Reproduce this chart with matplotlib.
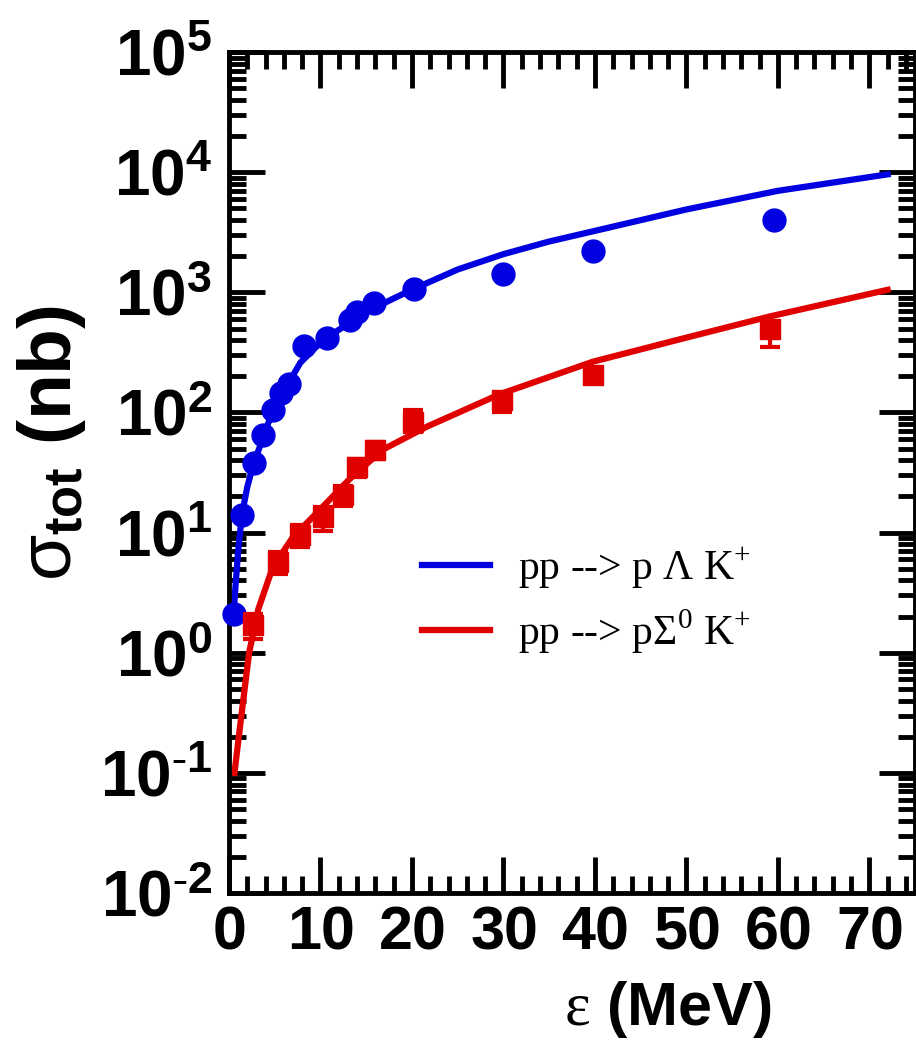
import numpy as np
import matplotlib
matplotlib.use('Agg')
import matplotlib.pyplot as plt
import matplotlib.ticker as mtick

# pp -> p Lambda K+ : measured points and model curve (nb vs MeV)
eps_lam = [0.55, 1.4, 2.7, 3.7, 4.8, 5.7, 6.6, 8.2, 10.7, 13.2, 14.0, 15.8, 20.2, 30.0, 39.8, 59.6]
sig_lam = [2.1, 14, 38, 65, 104, 144, 174, 360, 415, 585, 680, 810, 1075, 1420, 2200, 4000]
eps_lam_fit = [0.45, 0.7, 1.0, 1.4, 2.0, 2.7, 3.5, 4.3, 5.2, 6.2, 7.8, 9.5, 11.4, 13.5,
               15.7, 18, 20.1, 25, 30, 35, 40, 50, 60, 72]
sig_lam_fit = [1.8, 3.5, 7, 14, 24, 38, 55, 82, 112, 160, 260, 350, 455, 580,
               730, 890, 1060, 1550, 2080, 2650, 3250, 4900, 7000, 9600]

# pp -> p Sigma0 K+ : measured points (with errors) and model curve
eps_sig = [2.6, 5.4, 7.8, 10.3, 12.5, 14.0, 16.0, 20.1, 29.8, 39.8, 59.1]
sig_sig = [1.7, 5.7, 9.6, 13.4, 20.6, 35, 49, 84, 128, 205, 500]
err_lo = [0.4, 1.2, 2, 3, 4, 6, 8, 15, 28, 20, 150]
err_hi = [0.4, 1.2, 2, 3, 4, 6, 8, 20, 10, 10, 40]
eps_sig_fit = [0.6, 1.0, 1.5, 2.2, 3.2, 4.8, 7.0, 9.6, 13.2, 16.8, 21.6, 29.6, 39.8, 50, 59.1, 72]
sig_sig_fit = [0.1, 0.18, 0.37, 1.0, 2.3, 5.2, 9.2, 14.6, 28, 49, 76, 142, 265, 420, 630, 1050]

blue = '#0000e0'
red = '#e00000'

plt.rcParams.update({
    'font.family': 'Liberation Sans',
    'font.weight': 'normal',
    'mathtext.fontset': 'custom',
    'mathtext.rm': 'Liberation Serif',
    'mathtext.it': 'Liberation Sans',
    'mathtext.bf': 'Liberation Sans:bold',
    'mathtext.sf': 'Liberation Sans',
})


def decade(v, pos):
    e = int(round(np.log10(v)))
    if e < 0:
        return r'$\mathbf{10}^{\mathbf{\text{-}%d}}$' % (-e)
    return r'$\mathbf{10^{%d}}$' % e


fig = plt.figure(figsize=(9.16, 10.42), dpi=100)
ax = fig.add_axes([0.25, 0.143, 0.749, 0.807])
ax.set_yscale('log')

l1, = ax.plot(eps_lam_fit, sig_lam_fit, color=blue, lw=4.5)
l2, = ax.plot(eps_sig_fit, sig_sig_fit, color=red, lw=4.5)
ax.plot(eps_lam, sig_lam, 'o', color=blue, ms=16.5, clip_on=False, zorder=4)
ax.errorbar(eps_sig, sig_sig, yerr=[err_lo, err_hi], fmt='s', color=red, ms=14,
            capsize=7, elinewidth=3, capthick=3, zorder=4)

ax.set_xlim(0, 75)
ax.set_ylim(1e-2, 1e5)
ax.xaxis.set_major_locator(mtick.MultipleLocator(10))
ax.xaxis.set_minor_locator(mtick.MultipleLocator(2))
ax.yaxis.set_major_locator(mtick.LogLocator(base=10, numticks=20))
ax.yaxis.set_minor_locator(mtick.LogLocator(base=10, subs=range(2, 10), numticks=20))
ax.yaxis.set_minor_formatter(mtick.NullFormatter())
ax.yaxis.set_major_formatter(mtick.FuncFormatter(decade))
ax.xaxis.set_major_formatter(mtick.FuncFormatter(lambda v, p: r'$\mathbf{%d}$' % v))

ax.tick_params(which='both', direction='in', top=True, right=True, width=3.5)
ax.tick_params(which='major', length=26, pad=10)
ax.tick_params(axis='x', which='major', labelsize=44, pad=8)
ax.tick_params(axis='y', which='major', labelsize=46, pad=12)
ax.tick_params(which='minor', length=12)
for s in ax.spines.values():
    s.set_linewidth(3.5)

ax.set_xlabel(r'$\mathrm{ε}\ \mathbf{(MeV)}$', fontsize=44)
ax.xaxis.set_label_coords(0.64, -0.102)
ax.set_ylabel(r'$\sigma_{\mathbf{tot}}\ \mathbf{(nb)}$', fontsize=54)
ax.yaxis.set_label_coords(-0.205, 0.535)

ax.legend([l1, l2],
          [r'$\text{pp --> p }\Lambda\text{ K}^{+}$', r'$\text{pp --> p}\Sigma^{0}\text{ K}^{+}$'],
          loc='center left', bbox_to_anchor=(0.281, 0.348), frameon=False,
          fontsize=30, borderpad=0, borderaxespad=0, handlelength=1.63,
          handletextpad=0.67, labelspacing=0.4)

fig.savefig('out.png', dpi=100)
